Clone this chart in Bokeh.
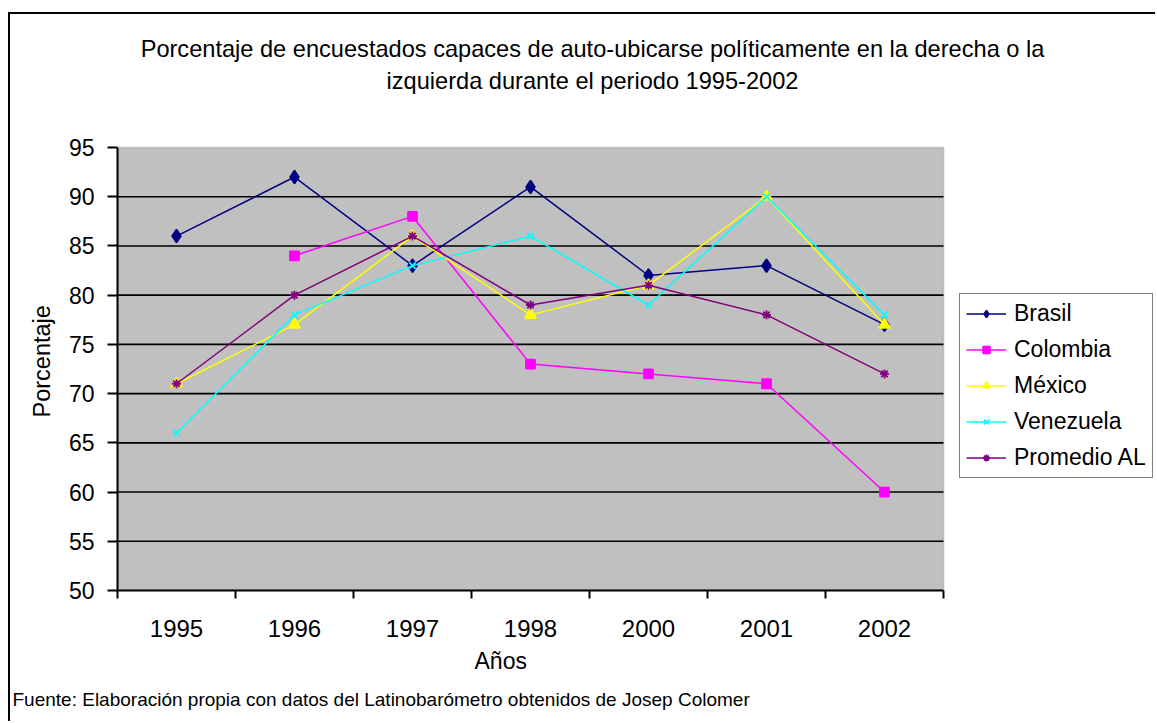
from bokeh.plotting import figure
from bokeh.models import Range1d, FixedTicker, Legend, LegendItem, Title, Label, BoxAnnotation
from bokeh.embed import file_html
from bokeh.resources import INLINE

# ---------------- data ----------------
years = ["1995", "1996", "1997", "1998", "2000", "2001", "2002"]
brasil = [86, 92, 83, 91, 82, 83, 77]
colombia = [None, 84, 88, 73, 72, 71, 60]
mexico = [71, 77, 86, 78, 81, 90, 77]
venezuela = [66, 78, 83, 86, 79, 90, 78]
promedio = [71, 80, 86, 79, 81, 78, 72]
y_ticks = [50, 55, 60, 65, 70, 75, 80, 85, 90, 95]

title_lines = ["Porcentaje de encuestados capaces de auto-ubicarse políticamente en la derecha o la",
               "izquierda durante el periodo 1995-2002"]
x_title = "Años"
y_title = "Porcentaje"
footer = "Fuente: Elaboración propia con datos del Latinobarómetro obtenidos de Josep Colomer"

FONT = "Liberation Sans"
FS = "23px"

# ---------------- layout (pixels) ----------------
W, H = 1147, 709            # canvas size
LEFT, BOTTOM = 107, 133     # space for axes
PLOT_W, PLOT_H = 826, 443   # size of the grey plot area
frame_w = W - LEFT
frame_h = H - BOTTOM

n = len(years)
xc = [i + 0.5 for i in range(n)]          # category centres
bounds = list(range(n + 1))               # category boundaries (tick marks)
y0, y1 = y_ticks[0], y_ticks[-1]
x_end = n * frame_w / PLOT_W
y_end = y0 + (y1 - y0) * frame_h / PLOT_H


def clean(vals):
    return [float("nan") if v is None else v for v in vals]


p = figure(width=W, height=H, output_backend="svg", toolbar_location=None,
           x_range=Range1d(0, x_end), y_range=Range1d(y0, y_end),
           min_border_left=LEFT, min_border_top=0, min_border_right=0,
           min_border_bottom=BOTTOM, background_fill_color="white",
           border_fill_color="white", outline_line_color=None)
p.styles = {"margin-left": "8px", "margin-top": "12px",
            "border-left": "2px solid black", "border-top": "2px solid black"}

# grey plot area
p.add_layout(BoxAnnotation(left=0, right=n, bottom=y0, top=y1, fill_color="#C0C0C0",
                           fill_alpha=1.0, line_color="#808080", line_width=2,
                           level="underlay"))
p.xgrid.visible = False
p.ygrid.visible = False
inner = y_ticks[1:-1]
p.segment(x0=[0] * len(inner), x1=[n] * len(inner), y0=inner, y1=inner,
          line_color="black", line_width=1.6)

# x axis
xa = p.xaxis[0]
xa.bounds = (0, n)
xa.ticker = FixedTicker(ticks=xc, minor_ticks=bounds)
xa.major_label_overrides = {x: y for x, y in zip(xc, years)}
xa.major_tick_line_color = None
xa.major_tick_out = 0
xa.major_tick_in = 0
xa.minor_tick_out = 8
xa.minor_tick_in = 0
xa.minor_tick_line_color = "black"
xa.minor_tick_line_width = 2
xa.axis_line_color = "black"
xa.axis_line_width = 2
xa.major_label_text_font = FONT
xa.major_label_text_font_size = "24px"
xa.major_label_text_color = "black"
xa.major_label_standoff = 21

# y axis
ya = p.yaxis[0]
ya.bounds = (y0, y1)
ya.ticker = FixedTicker(ticks=y_ticks)
ya.major_tick_out = 10
ya.major_tick_in = 0
ya.minor_tick_line_color = None
ya.major_tick_line_color = "black"
ya.major_tick_line_width = 2
ya.axis_line_color = "black"
ya.axis_line_width = 2
ya.major_label_text_font = FONT
ya.major_label_text_font_size = FS
ya.major_label_text_color = "black"
ya.major_label_standoff = 13

series = [
    ("Brasil", brasil, "#000080", "diamond", 13),
    ("Colombia", colombia, "#FF00FF", "square", 9),
    ("México", mexico, "#FFFF00", "triangle", 11),
    ("Venezuela", venezuela, "#00FFFF", "x", 9),
    ("Promedio AL", promedio, "#800080", "asterisk", 9),
]

items = []
for name, vals, col, mk, sz in series:
    ys = clean(vals)
    ln = p.line(xc, ys, line_color=col, line_width=1.5)
    sc = p.scatter(xc, ys, marker=mk, size=sz, fill_color=col,
                   line_color=col, line_width=1.8)
    items.append(LegendItem(label=name, renderers=[ln, sc]))

legend = Legend(items=items, location=(842, 112), border_line_color="black",
                border_line_width=1.5, background_fill_color="white",
                background_fill_alpha=1.0, label_text_font=FONT,
                label_text_font_size=FS, label_text_color="black",
                glyph_width=40, glyph_height=17, label_height=26, spacing=9,
                padding=6, label_standoff=8, margin=0)
p.add_layout(legend)

# two-line title (inside the frame, above the grey area)
for i, t in enumerate(title_lines):
    p.add_layout(Label(x=475, y=542 - 32 * i, x_units="screen", y_units="screen",
                       text=t, text_align="center", text_baseline="middle",
                       text_font=FONT, text_font_size="23.6px", text_color="black"))

# y-axis title
p.add_layout(Title(text=y_title, align="left", offset=173, standoff=22,
                   text_font=FONT, text_font_size="23.5px", text_font_style="normal",
                   text_color="black"), "left")

# x-axis title and source note below the axis
p.add_layout(Title(text=x_title, align="left", offset=357, standoff=12,
                   text_font=FONT, text_font_size=FS, text_font_style="normal",
                   text_color="black"), "below")
p.add_layout(Title(text=footer, align="left", offset=-105, standoff=15,
                   text_font=FONT, text_font_size="19px", text_font_style="normal",
                   text_color="black"), "below")

open("out.html", "w").write(file_html(p, INLINE))
